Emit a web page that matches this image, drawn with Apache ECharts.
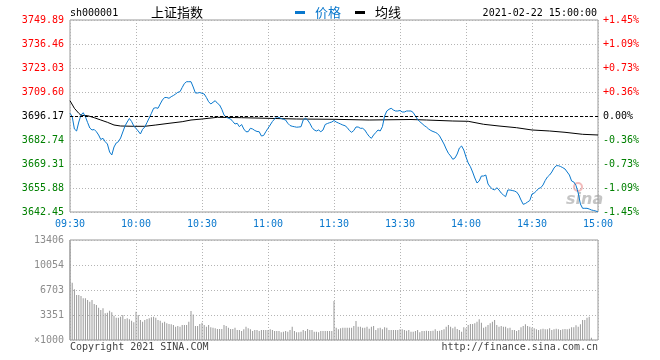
<!DOCTYPE html>
<html>
<head>
<meta charset="utf-8">
<script src="https://cdn.jsdelivr.net/npm/echarts@6/dist/echarts.min.js"></script>
<style>
  html, body { margin: 0; padding: 0; background: #fff; }
  #main { width: 660px; height: 360px; }
</style>
</head>
<body>
<div id="main"></div>
<script>
"use strict"
// sh000001 intraday, 2021-02-22, one value per minute (09:30 .. 11:30, 13:01 .. 15:00)
var prevClose = 3696.17;

var timeLabels = ['09:30', '10:00', '10:30', '11:00', '11:30', '13:30', '14:00', '14:30', '15:00'];
var priceTicks = ['3642.45', '3655.88', '3669.31', '3682.74', '3696.17', '3709.60', '3723.03', '3736.46', '3749.89'];
var pctTicks = ['-1.45%', '-1.09%', '-0.73%', '-0.36%', '0.00%', '+0.36%', '+0.73%', '+1.09%', '+1.45%'];
var volTicks = ['\u00d71000', '3351', '6703', '10054', '13406'];

var priceValues = [
    3697.68, 3695.89, 3688.90, 3687.78, 3692.81, 3696.73, 3698.02, 3695.78, 3692.53, 3689.45,
    3688.34, 3688.62, 3687.38, 3685.54, 3683.02, 3683.69, 3681.79, 3680.50, 3676.02, 3674.35,
    3678.82, 3681.06, 3681.79, 3683.86, 3687.22, 3690.57, 3692.81, 3694.77, 3693.09, 3690.57,
    3689.17, 3687.78, 3686.10, 3688.73, 3690.01, 3692.53, 3695.05, 3697.68, 3700.48, 3700.81,
    3700.48, 3702.89, 3705.12, 3706.52, 3706.52, 3706.07, 3706.97, 3707.64, 3708.48, 3709.43,
    3709.77, 3712.12, 3714.36, 3715.36, 3715.36, 3715.36, 3712.40, 3709.04, 3709.04, 3709.32,
    3708.87, 3708.48, 3706.52, 3704.17, 3702.89, 3703.84, 3704.73, 3703.28, 3702.33, 3699.92,
    3696.73, 3695.61, 3694.88, 3694.49, 3693.09, 3691.69, 3692.08, 3690.18, 3691.41, 3688.90,
    3687.38, 3687.38, 3689.29, 3688.90, 3688.06, 3687.50, 3687.38, 3684.98, 3685.26, 3687.38,
    3689.29, 3691.13, 3693.09, 3694.49, 3695.78, 3695.33, 3694.77, 3694.32, 3693.93, 3692.08,
    3690.85, 3690.41, 3690.18, 3689.90, 3690.01, 3690.18, 3693.93, 3694.88, 3693.93, 3692.08,
    3689.73, 3688.34, 3687.78, 3688.34, 3687.38, 3688.34, 3691.41, 3691.97, 3692.42, 3692.81,
    3693.65, 3692.81, 3692.25, 3691.69, 3691.13, 3690.74, 3689.73, 3688.06, 3687.05, 3688.06,
    3690.01, 3690.01, 3689.29, 3689.29, 3688.34, 3686.38, 3684.70, 3683.69, 3685.54, 3686.94,
    3688.34, 3687.78, 3690.18, 3696.17, 3698.97, 3699.92, 3700.48, 3699.53, 3698.97, 3698.97,
    3699.25, 3698.41, 3698.41, 3698.97, 3698.97, 3698.97, 3698.13, 3696.17, 3694.21, 3692.98,
    3691.97, 3690.85, 3690.01, 3688.90, 3688.06, 3687.50, 3687.05, 3686.38, 3684.98, 3682.74,
    3680.50, 3677.70, 3675.30, 3673.79, 3671.94, 3672.67, 3674.91, 3678.26, 3679.38, 3677.14,
    3673.23, 3669.87, 3667.80, 3664.83, 3661.47, 3658.68, 3659.80, 3662.59, 3662.59, 3663.15,
    3658.12, 3656.44, 3655.32, 3654.76, 3656.05, 3654.76, 3653.08, 3651.96, 3651.01, 3654.76,
    3654.76, 3654.48, 3654.20, 3653.64, 3651.96, 3649.16, 3646.76, 3647.20, 3648.04, 3648.88,
    3652.52, 3653.08, 3654.20, 3655.60, 3656.05, 3657.56, 3660.08, 3662.03, 3663.15, 3664.83,
    3667.07, 3668.36, 3668.36, 3667.91, 3667.24, 3666.51, 3664.83, 3663.15, 3659.80, 3659.24,
    3657.28, 3653.08, 3646.93, 3644.52, 3644.52, 3644.52, 3644.13, 3643.57, 3643.29, 3643.01,
    3642.45
];

// average line, read at a few minutes only
var avgMinutes = [0, 2, 4, 5, 8, 11, 14, 17, 20, 23, 29, 34, 39, 45, 51, 55, 60, 67, 78, 103,
    120, 136, 155, 162, 174, 181, 188, 195, 203, 210, 218, 225, 233, 240];
var avgValues = [3704.73, 3700.48, 3697.68, 3696.56, 3696.34, 3695.22, 3693.93, 3692.64, 3691.13, 3690.57,
    3690.41, 3690.41, 3691.13, 3692.08, 3692.98, 3693.93, 3694.49, 3695.44, 3695.22, 3694.49,
    3694.32, 3693.93, 3694.21, 3693.93, 3693.37, 3693.20, 3691.53, 3690.57, 3689.62, 3688.34,
    3687.78, 3687.05, 3685.93, 3685.54];

// volume, x1000
var volValues = [
    13406, 7682, 6797, 6033, 6033, 5899, 5590, 5590, 5362, 5134,
    5362, 4826, 4692, 4330, 4022, 4250, 3579, 3660, 3928, 3713,
    3258, 2990, 2990, 3124, 3352, 2815, 2909, 2775, 2587, 2373,
    3794, 3352, 2681, 2453, 2681, 2815, 2909, 3043, 3124, 2990,
    2681, 2587, 2319, 2453, 2239, 2145, 2105, 2011, 1783, 1877,
    1783, 2011, 2011, 2011, 2453, 3888, 3419, 1877, 1877, 2145,
    2300, 2011, 1783, 2011, 1703, 1649, 1569, 1475, 1475, 1475,
    2011, 1877, 1649, 1475, 1475, 1649, 1341, 1341, 1207, 1434,
    1783, 1569, 1434, 1207, 1341, 1341, 1207, 1341, 1341, 1341,
    1341, 1434, 1341, 1207, 1207, 1207, 1032, 1113, 1207, 1113,
    1341, 1783, 1207, 1032, 1032, 1113, 1341, 1207, 1475, 1341,
    1341, 1113, 1113, 1032, 1207, 1207, 1207, 1207, 1207, 1207,
    5228, 1649, 1434, 1569, 1649, 1649, 1649, 1649, 1649, 1877,
    2547, 1783, 1783, 1649, 1649, 1783, 1515, 1783, 1877, 1341,
    1569, 1649, 1434, 1703, 1649, 1341, 1341, 1341, 1341, 1341,
    1434, 1434, 1341, 1247, 1341, 1113, 1113, 1207, 1341, 1032,
    1207, 1207, 1247, 1207, 1207, 1247, 1434, 1207, 1247, 1341,
    1434, 1783, 2011, 1783, 1569, 1783, 1475, 1341, 1113, 1703,
    1569, 2011, 2145, 2145, 2239, 2453, 2775, 2319, 1649, 1783,
    2011, 2239, 2453, 2681, 2011, 1783, 1877, 1783, 1783, 1569,
    1649, 1341, 1341, 1207, 1341, 1703, 1877, 2105, 1877, 1783,
    1649, 1569, 1434, 1341, 1434, 1515, 1434, 1434, 1569, 1341,
    1434, 1515, 1434, 1341, 1434, 1475, 1434, 1515, 1703, 1703,
    1971, 1783, 2105, 2681, 2681, 2990, 3124, 308, 0, 0,
    0
];

var BLUE = '#0a78cd';
var MONO = '"DejaVu Sans Mono", monospace';
var CJK = '"Noto Sans CJK SC", sans-serif';
var priceMin = 3642.45, priceMax = 3749.89, priceStep = 13.43;

function tickIndex(v) {
    return Math.round((parseFloat(v) - priceMin) / priceStep);
}
function tickColor(v) {
    var i = tickIndex(v);
    if (i > 4) return '#ff0000';
    if (i < 4) return '#008000';
    return '#000';
}

var priceData = priceValues.map(function (v, i) { return [i, v]; });
var avgData = avgMinutes.map(function (m, i) { return [m, avgValues[i]]; });
var volData = volValues.map(function (v, i) { return [i, v]; });

var dotted = { color: '#b4b4b4', type: [1, 2], width: 1 };

var chart = echarts.init(document.getElementById('main'), null, { renderer: 'canvas' });

var option = {
    animation: false,
    backgroundColor: '#fff',
    grid: [
        { left: 70, top: 20, width: 528, height: 192, show: true, borderColor: '#999', borderWidth: 1 },
        { left: 70, top: 240, width: 528, height: 100, show: true, borderColor: '#999', borderWidth: 1 }
    ],
    xAxis: [
        {
            gridIndex: 0, type: 'value', min: 0, max: 240, interval: 30,
            axisLine: { show: false }, axisTick: { show: false },
            splitLine: { show: true, lineStyle: dotted },
            axisLabel: {
                margin: 7, color: BLUE, fontFamily: MONO, fontSize: 10,
                formatter: function (v) { return timeLabels[Math.round(v / 30)]; }
            }
        },
        {
            gridIndex: 1, type: 'value', min: 0, max: 240, interval: 30,
            axisLine: { show: false }, axisTick: { show: false },
            splitLine: { show: true, lineStyle: dotted },
            axisLabel: { show: false }
        }
    ],
    yAxis: [
        {
            gridIndex: 0, type: 'value', min: priceMin, max: priceMax, interval: priceStep,
            axisLine: { show: false }, axisTick: { show: false },
            splitLine: { show: true, lineStyle: dotted },
            axisLabel: {
                margin: 6, fontFamily: MONO, fontSize: 10, color: tickColor,
                formatter: function (v) { return priceTicks[tickIndex(v)]; }
            }
        },
        {
            gridIndex: 0, type: 'value', position: 'right', min: priceMin, max: priceMax, interval: priceStep,
            axisLine: { show: false }, axisTick: { show: false }, splitLine: { show: false },
            axisLabel: {
                margin: 5, fontFamily: MONO, fontSize: 10, color: tickColor,
                formatter: function (v) { return pctTicks[tickIndex(v)]; }
            }
        },
        {
            gridIndex: 1, type: 'value', min: 0, max: 13406, interval: 3351.5,
            axisLine: { show: false }, axisTick: { show: false },
            splitLine: { show: true, lineStyle: dotted },
            axisLabel: {
                margin: 6, fontFamily: MONO, fontSize: 10, color: '#8c8c8c',
                formatter: function (v) { return volTicks[Math.round(v / 3351.5)]; }
            }
        }
    ],
    series: [
        {
            name: '均线', type: 'line', xAxisIndex: 0, yAxisIndex: 0,
            data: avgData, symbol: 'none', silent: true,
            lineStyle: { color: '#000', width: 1 }, z: 3
        },
        {
            name: '价格', type: 'line', xAxisIndex: 0, yAxisIndex: 0,
            data: priceData, symbol: 'none', silent: true,
            lineStyle: { color: BLUE, width: 1 }, z: 4,
            markLine: {
                silent: true, symbol: 'none', label: { show: false }, animation: false,
                lineStyle: { color: '#000', type: [3, 2], width: 1 },
                data: [{ yAxis: prevClose }]
            }
        },
        {
            name: 'vol', type: 'bar', xAxisIndex: 1, yAxisIndex: 2,
            data: volData, barWidth: 1, silent: true,
            itemStyle: { color: '#999' }
        }
    ],
    graphic: [
        { type: 'text', x: 70, y: 13, style: { text: 'sh000001', font: '10px ' + MONO, fill: '#000', verticalAlign: 'middle' } },
        { type: 'text', x: 151, y: 12, style: { text: '上证指数', font: '13px ' + CJK, fill: '#000', verticalAlign: 'middle' } },
        { type: 'rect', shape: { x: 295, y: 11, width: 10, height: 3 }, style: { fill: BLUE } },
        { type: 'text', x: 315, y: 12, style: { text: '价格', font: '13px ' + CJK, fill: BLUE, verticalAlign: 'middle' } },
        { type: 'rect', shape: { x: 355, y: 11, width: 10, height: 3 }, style: { fill: '#000' } },
        { type: 'text', x: 375, y: 12, style: { text: '均线', font: '13px ' + CJK, fill: '#000', verticalAlign: 'middle' } },
        { type: 'text', x: 597, y: 13, style: { text: '2021-02-22 15:00:00', font: '10px ' + MONO, fill: '#000', align: 'right', verticalAlign: 'middle' } },
        { type: 'text', x: 70, y: 347, style: { text: 'Copyright 2021 SINA.COM', font: '10px ' + MONO, fill: '#444', verticalAlign: 'middle' } },
        { type: 'text', x: 598, y: 347, style: { text: 'http://finance.sina.com.cn', font: '10px ' + MONO, fill: '#444', align: 'right', verticalAlign: 'middle' } },
        // sina watermark
        { type: 'circle', shape: { cx: 578, cy: 187, r: 4 }, style: { fill: 'none', stroke: 'rgba(230,120,120,0.5)', lineWidth: 2 } },
        { type: 'text', x: 566, y: 200, style: { text: 'sina', font: 'italic bold 16px "DejaVu Sans", sans-serif', fill: 'rgba(150,150,150,0.55)', verticalAlign: 'middle' } }
    ]
};

chart.setOption(option);
console.log('chart ready');
</script>
</body>
</html>
